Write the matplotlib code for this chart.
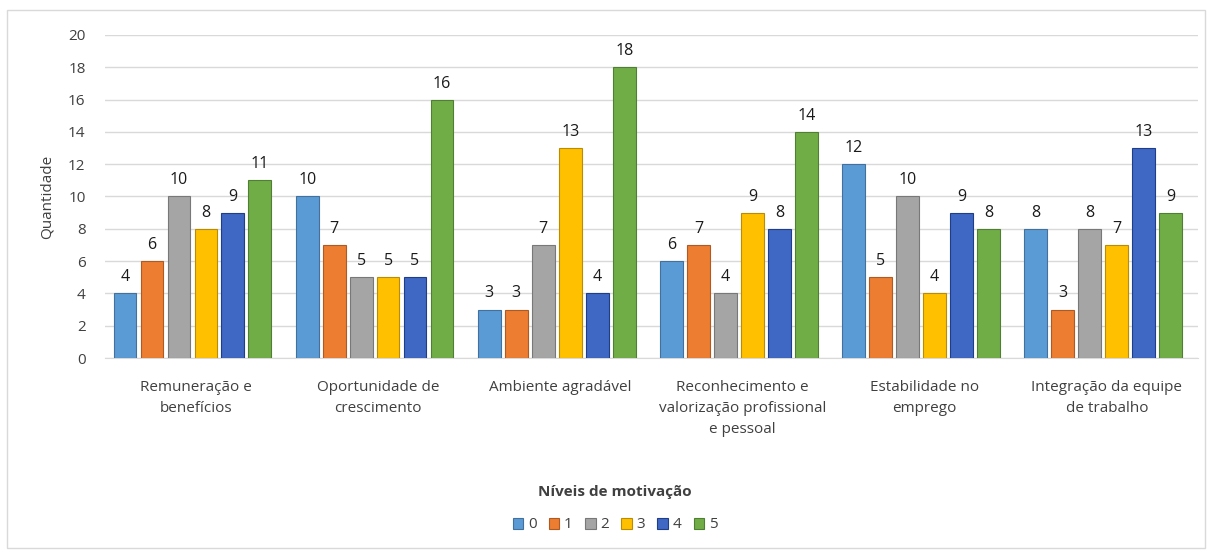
import matplotlib
matplotlib.use("Agg")
import matplotlib.pyplot as plt
from matplotlib.patches import Rectangle
import numpy as np

categories = ["Remuneração e\nbenefícios", "Oportunidade de\ncrescimento", "Ambiente agradável",
              "Reconhecimento e\nvalorização profissional\ne pessoal", "Estabilidade no\nemprego",
              "Integração da equipe\nde trabalho"]
series_names = ["0", "1", "2", "3", "4", "5"]
values = [
    [4, 10, 3, 6, 12, 8],
    [6, 7, 3, 7, 5, 3],
    [10, 5, 7, 4, 10, 8],
    [8, 5, 13, 9, 4, 7],
    [9, 5, 4, 8, 9, 13],
    [11, 16, 18, 14, 8, 9],
]
colors = ["#5B9BD5", "#ED7D31", "#A5A5A5", "#FFC000", "#3F68C4", "#70AD47"]
edges = ["#41719C", "#AE5A21", "#787878", "#BC8C00", "#1F3E8A", "#507E32"]

plt.rcParams['font.family'] = ['Open Sans', 'DejaVu Sans']
fig = plt.figure(figsize=(12.15, 5.54), dpi=100)
fig.patches.append(Rectangle((7/1215, 6/554), 1198/1215, 538/554, transform=fig.transFigure,
                             fill=False, edgecolor="#D9D9D9", linewidth=1))
ax = fig.add_axes([105/1215, 1-358/554, (1198-105)/1215, (358-35)/554])

x = np.arange(len(categories))
pitch = 0.148
width = 0.125
for j, (name, vals) in enumerate(zip(series_names, values)):
    pos = x + (j - 2.5) * pitch - 0.02
    bars = ax.bar(pos, vals, width, color=colors[j], edgecolor=edges[j], linewidth=0.8,
                  label=name, zorder=3)
    for b, v in zip(bars, vals):
        ax.text(b.get_x() + b.get_width() / 2, v + 0.5, str(v), ha="center", va="bottom",
                fontsize=11.5, color="#1a1a1a")

ax.set_xlim(-0.5, len(categories) - 0.5)
ax.set_ylim(0, 20)
ax.set_yticks(range(0, 21, 2))
ax.yaxis.grid(True, color="#D9D9D9", linewidth=1, zorder=0)
ax.set_xticks(x)
ax.set_xticklabels(categories, fontsize=11, color="#404040", linespacing=1.55, va="top")
ax.tick_params(axis="both", length=0, labelsize=11, colors="#404040")
ax.tick_params(axis="x", pad=16)
ax.tick_params(axis="y", pad=14)
for s in ["top", "right", "left"]:
    ax.spines[s].set_visible(False)
ax.spines["bottom"].set_color("#D9D9D9")
ax.set_ylabel("Quantidade", fontsize=11, color="#404040", labelpad=10)

leg = fig.legend(loc="center", bbox_to_anchor=(615/1215, 1-525/554), ncol=6, frameon=False,
                 fontsize=11, handlelength=0.7, handleheight=0.7, handletextpad=0.3,
                 columnspacing=0.8, labelcolor="#404040")
fig.text(615/1215, 1-492/554, "Níveis de motivação", ha="center", va="center",
         fontsize=11, fontweight="bold", color="#404040")

fig.savefig("out.png", dpi=100)
